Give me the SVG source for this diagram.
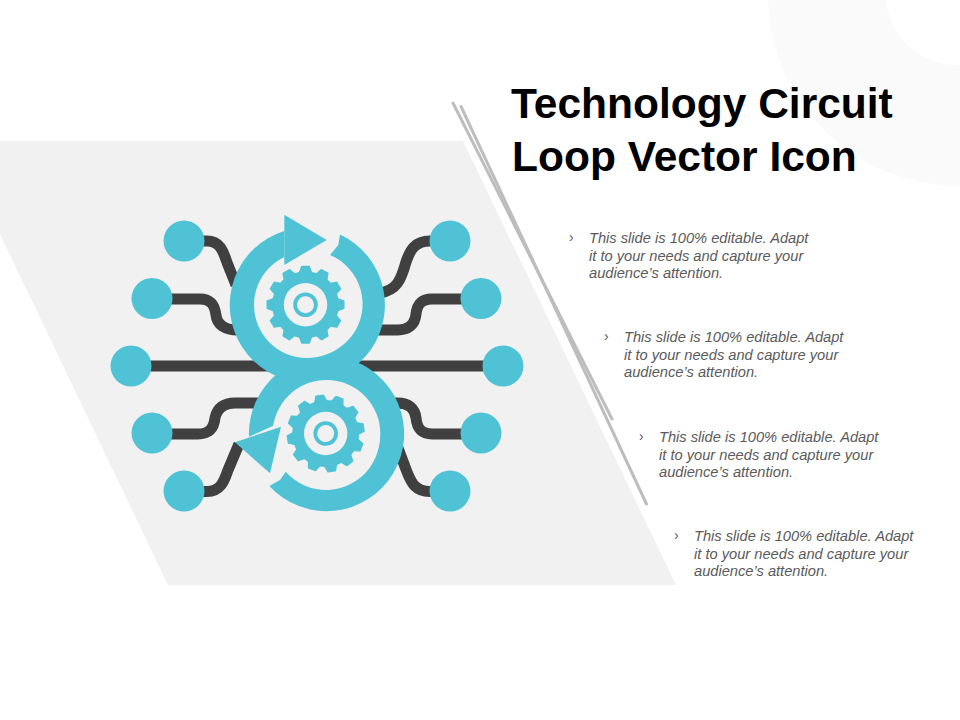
<svg xmlns="http://www.w3.org/2000/svg" width="960" height="720" viewBox="0 0 960 720">
<style>
.title{font:bold 42.5px "Liberation Sans",Arial,sans-serif;fill:#000}
.body{font:italic 14.67px "Liberation Sans",Arial,sans-serif;fill:#5a5a5a}
.bul{font:14px "Liberation Sans",Arial,sans-serif;fill:#5a5a5a}
.wire{fill:none;stroke:#404040;stroke-width:11}
.teal{fill:#4fc3d5}
.bg{fill:#f1f1f1}
.rule{stroke:#bdbdbd;stroke-width:3;stroke-linecap:round}
</style>
<defs>
<polygon id="tooth" class="teal" stroke="#4fc3d5" stroke-width="1.2" stroke-linejoin="round" points="-6.500,-31 -3.800,-38.400 3.800,-38.400 6.500,-31"/>
<g id="gear">
<use href="#tooth"/><use href="#tooth" transform="rotate(30)"/><use href="#tooth" transform="rotate(60)"/><use href="#tooth" transform="rotate(90)"/><use href="#tooth" transform="rotate(120)"/><use href="#tooth" transform="rotate(150)"/><use href="#tooth" transform="rotate(180)"/><use href="#tooth" transform="rotate(210)"/><use href="#tooth" transform="rotate(240)"/><use href="#tooth" transform="rotate(270)"/><use href="#tooth" transform="rotate(300)"/><use href="#tooth" transform="rotate(330)"/>
<circle class="teal" r="33.500"/>
<circle class="bg" r="21.700"/>
<circle r="10.400" fill="none" stroke="#4fc3d5" stroke-width="3.800"/>
</g>
</defs>
<rect width="960" height="720" fill="#fff"/>
<path id="corner-arc" d="M768 0A192 192 0 0 0 960 186V65A71 71 0 0 1 886 0Z" fill="#fafafa"/>
<polygon id="panel" class="bg" points="0,141 463,141 676,585 168,585 0,234"/>
<g id="rules">
<line class="rule" x1="453" y1="103" x2="612" y2="419"/>
<line class="rule" x1="461" y1="106.500" x2="646.500" y2="504"/>
</g>
<g id="connectors">
<path class="wire" d="M200 241H207C222 241 224 255 228 265L236 285"/>
<path class="wire" d="M165 299H200C213 299 215 308 216 315C217 325 225 330 238 330"/>
<path class="wire" d="M131 366H503"/>
<path class="wire" d="M165 434H198C210 434 214 427 215 418C217 408 224 403 235 403H262"/>
<path class="wire" d="M200 491.500H207C222 491.500 225 478 228 470L239 444"/>
<path class="wire" d="M440 241H430C415 241 410 250 406 262C401 280 397 290 380 293"/>
<path class="wire" d="M470 299H432C420 299 417 306 416 314C415 325 408 330 398 330H375"/>
<path class="wire" d="M470 434H432C420 434 417 427 416 418C415 408 408 403 398 403H385"/>
<path class="wire" d="M440 491.500H430C415 491.500 411 482 407 472L398 448"/>
</g>
<g id="loop">
<path class="teal" d="M340 234.600A77.600 77.600 0 1 1 284.300 230.900L284.300 257.300A53 53 0 1 0 330 255L338.300 245Z"/>
<path class="teal" d="M249 436.700A77.600 77.600 0 1 1 269.300 486L280 480L285.700 471.700A53.800 53.800 0 1 0 273.300 425.700Z"/>
<circle class="bg" cx="307" cy="305" r="53"/>
<circle class="bg" cx="326.500" cy="433.700" r="53.800"/>
<polygon class="teal" points="284.300,214.700 326.700,240 284.300,265"/>
<polygon class="teal" points="281,426.700 270,473.300 235,442.300"/>
</g>
<g id="gear-top"><use href="#gear" transform="translate(305.500,304.700)"/></g>
<g id="gear-bottom"><use href="#gear" transform="translate(325.700,433.500) rotate(21)"/></g>
<g id="node-l1"><circle class="teal" cx="184" cy="241" r="20.500"/></g>
<g id="node-l2"><circle class="teal" cx="152" cy="298.500" r="20.500"/></g>
<g id="node-l3"><circle class="teal" cx="131" cy="366" r="20.500"/></g>
<g id="node-l4"><circle class="teal" cx="152" cy="433" r="20.500"/></g>
<g id="node-l5"><circle class="teal" cx="184" cy="491" r="20.500"/></g>
<g id="node-r1"><circle class="teal" cx="450" cy="241" r="20.500"/></g>
<g id="node-r2"><circle class="teal" cx="481" cy="298.500" r="20.500"/></g>
<g id="node-r3"><circle class="teal" cx="503" cy="366" r="20.500"/></g>
<g id="node-r4"><circle class="teal" cx="481" cy="433" r="20.500"/></g>
<g id="node-r5"><circle class="teal" cx="450" cy="491" r="20.500"/></g>
<g id="title"><text class="title" x="511" y="118">Technology Circuit</text><text class="title" x="512" y="171">Loop Vector Icon</text></g>
<g id="item-1"><text class="bul" x="569" y="242">›</text><text class="body" x="589" y="243">This slide is 100% editable. Adapt</text><text class="body" x="589" y="261">it to your needs and capture your</text><text class="body" x="589" y="278">audience’s attention.</text></g>
<g id="item-2"><text class="bul" x="604" y="341">›</text><text class="body" x="624" y="342">This slide is 100% editable. Adapt</text><text class="body" x="624" y="360">it to your needs and capture your</text><text class="body" x="624" y="377">audience’s attention.</text></g>
<g id="item-3"><text class="bul" x="639" y="441">›</text><text class="body" x="659" y="442">This slide is 100% editable. Adapt</text><text class="body" x="659" y="460">it to your needs and capture your</text><text class="body" x="659" y="477">audience’s attention.</text></g>
<g id="item-4"><text class="bul" x="674" y="540">›</text><text class="body" x="694" y="541">This slide is 100% editable. Adapt</text><text class="body" x="694" y="559">it to your needs and capture your</text><text class="body" x="694" y="576">audience’s attention.</text></g>
</svg>
